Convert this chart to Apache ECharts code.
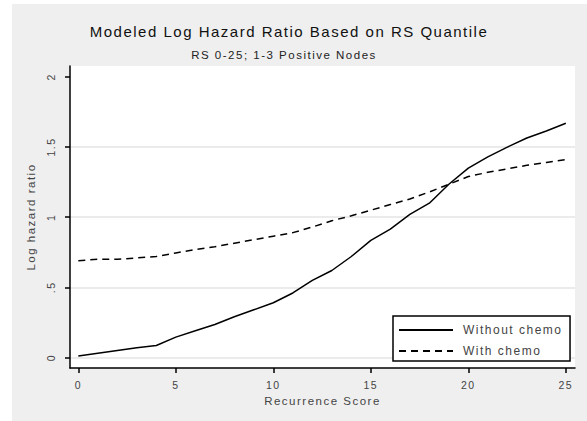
<!DOCTYPE html>
<html>
<head>
<meta charset="utf-8">
<script src="https://cdn.jsdelivr.net/npm/echarts@6/dist/echarts.min.js"></script>
<style>
  html, body { margin: 0; padding: 0; background: #fff; }
  #chart { width: 587px; height: 421px; }
  #chart text { letter-spacing: 1.5px; }
</style>
</head>
<body>
<div id="chart"></div>
<script>
const titleText = 'Modeled Log Hazard Ratio Based on RS Quantile';
const subtitleText = 'RS 0-25; 1-3 Positive Nodes';
const xAxisName = 'Recurrence Score';
const yAxisName = 'Log hazard ratio';
const seriesNames = ['Without chemo', 'With chemo'];

const recurrenceScore = [0, 1, 2, 3, 4, 5, 6, 7, 8, 9, 10, 11, 12, 13, 14, 15, 16, 17, 18, 19, 20, 21, 22, 23, 24, 25];
const withoutChemo = [0.01, 0.03, 0.05, 0.07, 0.085, 0.145, 0.19, 0.235, 0.29, 0.34, 0.39, 0.46, 0.55, 0.62, 0.72, 0.835, 0.915, 1.02, 1.10, 1.235, 1.35, 1.43, 1.50, 1.565, 1.615, 1.67];
const withChemo = [0.69, 0.70, 0.70, 0.71, 0.72, 0.745, 0.77, 0.79, 0.815, 0.84, 0.865, 0.89, 0.93, 0.975, 1.01, 1.05, 1.09, 1.13, 1.18, 1.235, 1.29, 1.32, 1.345, 1.37, 1.39, 1.41];

const xTicks = [0, 5, 10, 15, 20, 25];
const yTicks = [0, 0.5, 1, 1.5, 2];
const yGridLines = [0, 0.5, 1, 1.5];

const FONT = 'Liberation Sans, Arial, sans-serif';
const chart = echarts.init(document.getElementById('chart'), null, { renderer: 'svg' });

function fmtY(v) {
  if (v === 0) return '0';
  const s = String(v);
  return s.startsWith('0.') ? s.slice(1) : s;
}

const axisLineStyle = { color: '#000', width: 1.5 };
const Y_MIN = -0.075, Y_MAX = 2.078;

chart.setOption({
  animation: false,
  backgroundColor: '#efefef',
  graphic: {
    elements: [
      { type: 'rect', shape: { x: 0, y: 0, width: 587, height: 4 }, style: { fill: '#fff' } },
      { type: 'rect', shape: { x: 0, y: 0, width: 12, height: 421 }, style: { fill: '#fff' } }
    ]
  },
  title: [
    {
      text: titleText, left: 289, top: 22, textAlign: 'center', padding: 0,
      textStyle: { fontFamily: FONT, fontSize: 15, fontWeight: 'normal', color: '#111', lineHeight: 18 }
    },
    {
      text: subtitleText, left: 284, top: 48, textAlign: 'center', padding: 0,
      textStyle: { fontFamily: FONT, fontSize: 11.5, fontWeight: 'normal', color: '#222', lineHeight: 14 }
    }
  ],
  grid: {
    left: 70, right: 12, top: 66, bottom: 53,
    show: true, backgroundColor: '#fff', borderWidth: 0, containLabel: false
  },
  legend: {
    orient: 'vertical', left: 393, top: 316, z: 10,
    padding: [8, 27, 4, 5], itemGap: 9, itemWidth: 54, itemHeight: 10,
    backgroundColor: '#fff', borderColor: '#000', borderWidth: 1.5, borderRadius: 0,
    selectedMode: false,
    itemStyle: { opacity: 0 },
    textStyle: { fontFamily: FONT, fontSize: 12, color: '#444', padding: [0, 0, 0, 5] },
    data: seriesNames
  },
  xAxis: {
    type: 'value', min: -0.426, max: 25.47, z: 8,
    axisLine: { show: true, onZero: false, lineStyle: axisLineStyle },
    axisTick: { show: true, customValues: xTicks, length: 5, lineStyle: axisLineStyle },
    axisLabel: { customValues: xTicks, margin: 11, fontFamily: FONT, fontSize: 10.5, color: '#444' },
    splitLine: { show: false },
    name: xAxisName, nameLocation: 'middle', nameGap: 21,
    nameTextStyle: { fontFamily: FONT, fontSize: 11.5, color: '#444' }
  },
  yAxis: {
    type: 'value', min: Y_MIN, max: Y_MAX, z: 8,
    axisLine: { show: true, onZero: false, lineStyle: axisLineStyle },
    axisTick: { show: true, customValues: yTicks, length: 5, lineStyle: axisLineStyle },
    axisLabel: { customValues: yTicks, rotate: 90, margin: 14, formatter: fmtY, fontFamily: FONT, fontSize: 10.5, color: '#444' },
    splitLine: { show: false },
    name: yAxisName, nameLocation: 'middle', nameGap: 27,
    nameTextStyle: { fontFamily: FONT, fontSize: 11.5, color: '#444' }
  },
  series: [
    {
      name: seriesNames[0], type: 'line', z: 6,
      data: recurrenceScore.map((x, i) => [x, withoutChemo[i]]),
      symbol: 'none', showSymbol: false,
      lineStyle: { color: '#000', width: 1.5, type: 'solid' },
      itemStyle: { color: '#000' },
      markLine: {
        silent: true, symbol: 'none', z: 3,
        label: { show: false },
        lineStyle: { color: '#e4e4e4', width: 1.5, type: 'solid' },
        data: yGridLines.map(v => ({ yAxis: v }))
      }
    },
    {
      name: seriesNames[1], type: 'line', z: 6,
      data: recurrenceScore.map((x, i) => [x, withChemo[i]]),
      symbol: 'none', showSymbol: false,
      lineStyle: { color: '#000', width: 1.5, type: [7, 5] },
      itemStyle: { color: '#000' }
    }
  ]
});
</script>
</body>
</html>
